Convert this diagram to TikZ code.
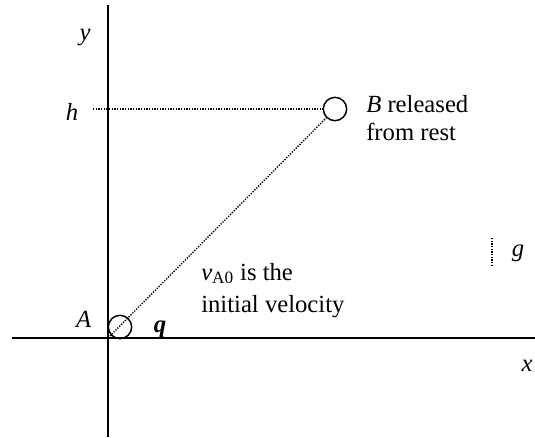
\documentclass[tikz,border=0pt]{standalone}
\usepackage{fontspec}
\setmainfont{Liberation Serif}
\usepackage{tikz}

\begin{document}
\begin{tikzpicture}[x=0.75pt,y=-0.75pt,font=\fontsize{18.5}{22}\selectfont]
\useasboundingbox (0,0) rectangle (535,437);
\tikzset{ball/.style={draw,circle,line width=1.1pt,minimum size=17.5pt,inner sep=0pt},
  guide/.style={densely dotted,line width=1pt}}
% axes
\coordinate (O) at (108,338);
\draw[line width=1.5pt] (12,338) -- (535,338);
\draw[line width=1.5pt] (108,5) -- (108,437);
\node[anchor=base] at (85,40) {\textit{y}};
\node[anchor=base] at (527,371) {\textit{x}};
% balls
\node[ball] (A) at (120,327) {};
\node[ball] (B) at (335,109) {};
\draw[guide] (O) -- (B);
\coordinate (h0) at (93,109);
\draw[guide] (h0) -- (B.west);
\node[anchor=base] at (72,120) {\textit{h}};
\node[anchor=base east] at (96,327) {\textit{A}};
\node[anchor=base] at (160,332) {\textbf{\textit{q}}};
\node[anchor=base west,inner sep=0pt] at (366,112) {\textit{B} released};
\node[anchor=base west,inner sep=0pt] at (366,140) {from rest};
\node[anchor=base west,inner sep=0pt] at (201,280) {\textit{v}\textsubscript{A0} is the};
\node[anchor=base west,inner sep=0pt] at (201,312) {initial velocity};
% gravity
\coordinate (g0) at (492,238);
\coordinate (g1) at (492,267);
\draw[guide] (g0) -- (g1);
\node[anchor=base] at (518,256) {\textit{g}};
\end{tikzpicture}
\end{document}
